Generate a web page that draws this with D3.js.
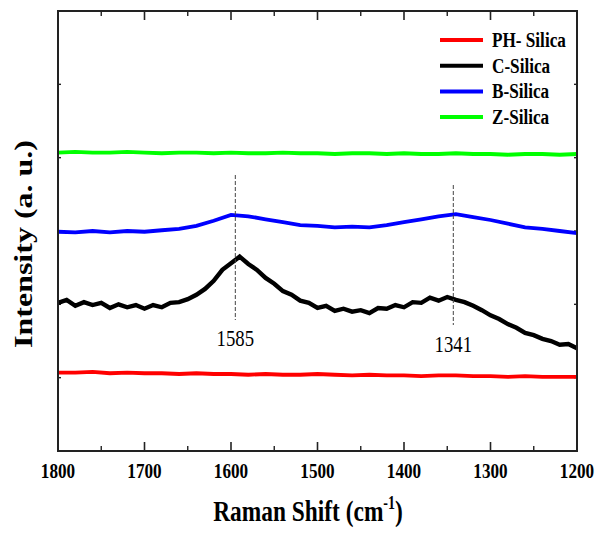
<!DOCTYPE html>
<html lang="en">
<head>
    <meta charset="UTF-8">
    <title>Raman spectra</title>
    <script src="https://d3js.org/d3.v7.min.js"></script>
    <style>
        body { margin: 0; background: white; }
    </style>
</head>
<body>
<div id="chart"></div>
<script>
    // Raman shift, cm-1 (axis runs 1800 -> 1200)
    var shift20 = d3.range(1800, 1199, -20);
    var shift10 = d3.range(1800, 1199, -10);

    // intensities in arbitrary units
    var phSilica = [1.07, 1.07, 1.08, 1.06, 1.07, 1.06, 1.06, 1.05, 1.06, 1.05, 1.05, 1.04, 1.05, 1.04, 1.04, 1.05,
        1.04, 1.03, 1.04, 1.03, 1.03, 1.02, 1.03, 1.03, 1.02, 1.02, 1.01, 1.02, 1.01, 1.01, 1.01];
    var cSilica = [2.02, 2.06, 1.98, 2.03, 1.99, 2.02, 1.95, 2.00, 1.96, 1.99, 1.94, 1.99, 1.96, 2.02, 2.03, 2.07,
        2.13, 2.21, 2.32, 2.47, 2.56, 2.65, 2.55, 2.47, 2.36, 2.28, 2.18, 2.13, 2.05, 2.02, 1.95, 1.98,
        1.91, 1.94, 1.90, 1.92, 1.88, 1.95, 1.94, 1.99, 1.96, 2.03, 2.02, 2.09, 2.05, 2.10, 2.06, 2.03,
        1.98, 1.92, 1.85, 1.80, 1.73, 1.68, 1.61, 1.58, 1.53, 1.50, 1.45, 1.46, 1.40];
    var bSilica = [2.99, 2.98, 3.00, 2.98, 3.00, 2.99, 3.01, 3.03, 3.07, 3.14, 3.22, 3.20, 3.16, 3.12, 3.08, 3.07,
        3.05, 3.06, 3.05, 3.08, 3.12, 3.16, 3.20, 3.23, 3.19, 3.15, 3.10, 3.05, 3.03, 3.00, 2.97];
    var zSilica = [4.07, 4.08, 4.07, 4.07, 4.08, 4.07, 4.06, 4.07, 4.07, 4.06, 4.07, 4.06, 4.06, 4.07, 4.06, 4.06,
        4.05, 4.06, 4.06, 4.05, 4.06, 4.05, 4.05, 4.06, 4.05, 4.05, 4.04, 4.05, 4.05, 4.04, 4.05];

    var seriesNames = ["PH- Silica", "C-Silica", "B-Silica", "Z-Silica"];
    var seriesColors = ["#ff0000", "#000000", "#0000ff", "#00ff00"];
    var xTicks = [1800, 1700, 1600, 1500, 1400, 1300, 1200];
    var peakPositions = [1595, 1343];
    var peakLabels = ["1585", "1341"];

    (function() {
        var serif = "'Liberation Serif', 'Times New Roman', serif";
        var squeeze = 0.78; // the figure is horizontally condensed
        var series = [
            { name: seriesNames[0], color: seriesColors[0], x: shift20, y: phSilica, w: 3.8 },
            { name: seriesNames[1], color: seriesColors[1], x: shift10, y: cSilica, w: 4.4 },
            { name: seriesNames[2], color: seriesColors[2], x: shift20, y: bSilica, w: 3.8 },
            { name: seriesNames[3], color: seriesColors[3], x: shift20, y: zSilica, w: 3.8 }
        ];

        var width = 597, height = 535;
        var pLeft = 58, pRight = 577, pTop = 11, pBottom = 451;

        var svg = d3.select("#chart").append("svg")
            .attr("width", width)
            .attr("height", height);

        var x = d3.scaleLinear().domain([1800, 1200]).range([pLeft, pRight]);
        var y = d3.scaleLinear().domain([0, 6]).range([pBottom, pTop]);

        // axes: ticks pointing inward, labels only on the bottom
        var minor = d3.range(1750, 1200, -100);
        var drawXTicks = function(y0, dir) {
            xTicks.forEach(function(t) {
                svg.append("line").attr("x1", x(t)).attr("x2", x(t))
                    .attr("y1", y0).attr("y2", y0 + dir * 9)
                    .attr("stroke", "#222").attr("stroke-width", 1.6);
            });
            minor.forEach(function(t) {
                svg.append("line").attr("x1", x(t)).attr("x2", x(t))
                    .attr("y1", y0).attr("y2", y0 + dir * 5)
                    .attr("stroke", "#222").attr("stroke-width", 1.4);
            });
        };
        drawXTicks(pBottom, -1);
        drawXTicks(pTop, 1);

        d3.range(1, 6).forEach(function(t) {
            svg.append("line").attr("x1", pLeft).attr("x2", pLeft + 3)
                .attr("y1", y(t)).attr("y2", y(t)).attr("stroke", "#222").attr("stroke-width", 1.4);
            svg.append("line").attr("x1", pRight).attr("x2", pRight - 3)
                .attr("y1", y(t)).attr("y2", y(t)).attr("stroke", "#222").attr("stroke-width", 1.4);
        });

        xTicks.forEach(function(t) {
            svg.append("text")
                .attr("transform", "translate(" + x(t) + ",478) scale(" + squeeze + ",1)")
                .attr("text-anchor", "middle")
                .attr("font-family", serif)
                .attr("font-size", 22)
                .attr("font-weight", "bold")
                .text(t);
        });

        // spectra
        var line = d3.line()
            .x(function(d) { return x(d[0]); })
            .y(function(d) { return y(d[1]); });

        series.forEach(function(s) {
            svg.append("path")
                .datum(s.x.map(function(v, i) { return [v, s.y[i]]; }))
                .attr("d", line)
                .attr("fill", "none")
                .attr("stroke", s.color)
                .attr("stroke-width", s.w)
                .attr("stroke-linejoin", "miter");
        });

        // peak markers
        var markTop = [175, 185], markBottom = [320, 325], labelY = [346, 352];
        peakPositions.forEach(function(p, i) {
            svg.append("line")
                .attr("x1", x(p)).attr("x2", x(p))
                .attr("y1", markTop[i]).attr("y2", markBottom[i])
                .attr("stroke", "#444").attr("stroke-width", 1)
                .attr("stroke-dasharray", "4,2");
            svg.append("text")
                .attr("transform", "translate(" + x(p) + "," + labelY[i] + ") scale(" + squeeze + ",1)")
                .attr("text-anchor", "middle")
                .attr("font-family", serif)
                .attr("font-size", 24)
                .text(peakLabels[i]);
        });

        // frame
        svg.append("rect")
            .attr("x", pLeft).attr("y", pTop)
            .attr("width", pRight - pLeft).attr("height", pBottom - pTop)
            .attr("fill", "none").attr("stroke", "#222").attr("stroke-width", 2);

        // legend
        series.forEach(function(s, i) {
            var ly = 40 + i * 25.7;
            svg.append("line")
                .attr("x1", 440).attr("x2", 483).attr("y1", ly).attr("y2", ly)
                .attr("stroke", s.color).attr("stroke-width", 4);
            svg.append("text")
                .attr("transform", "translate(492," + (ly + 7) + ") scale(" + squeeze + ",1)")
                .attr("font-family", serif)
                .attr("font-size", 22)
                .attr("font-weight", "bold")
                .text(s.name);
        });

        // axis titles
        var xTitle = svg.append("text")
            .attr("transform", "translate(308,521) scale(" + squeeze + ",1)")
            .attr("text-anchor", "middle")
            .attr("font-family", serif)
            .attr("font-size", 30)
            .attr("font-weight", "bold");
        xTitle.append("tspan").text("Raman Shift (cm");
        xTitle.append("tspan").attr("dy", -12).attr("font-size", 18).text("-1");
        xTitle.append("tspan").attr("dy", 12).text(")");

        svg.append("text")
            .attr("transform", "translate(32,244) rotate(-90) scale(1," + squeeze + ")")
            .attr("text-anchor", "middle")
            .attr("font-family", serif)
            .attr("font-size", 32)
            .attr("font-weight", "bold")
            .text("Intensity (a. u.)");
    })();
</script>
</body>
</html>
